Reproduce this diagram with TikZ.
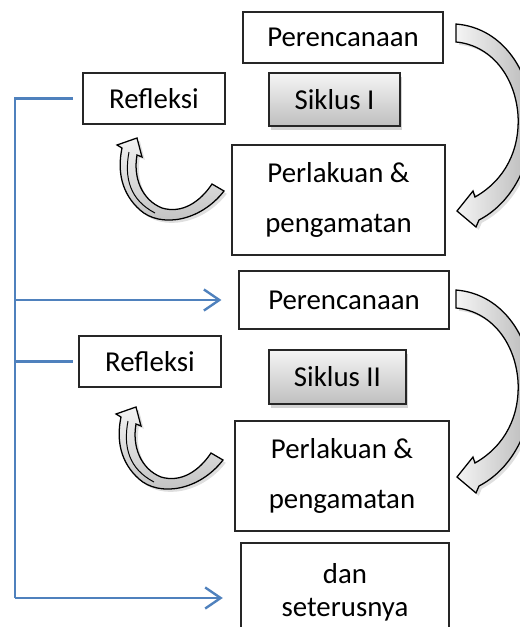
\documentclass[tikz,border=0pt]{standalone}
\usepackage{fontspec}
\setmainfont{Carlito}
\usetikzlibrary{arrows.meta, shadows}
\definecolor{biru}{HTML}{4F81BD}
\newcommand{\hurufkotak}{\fontsize{20.5pt}{35.5pt}\selectfont}
\tikzset{
  kotak/.style={draw=black!85,line width=0.9pt,fill=white,inner sep=0pt,align=center,font=\hurufkotak},
  siklus/.style={kotak,line width=1.4pt,top color=gray!8,bottom color=gray!50,
    drop shadow={opacity=0.35,shadow xshift=1.5pt,shadow yshift=-2.5pt}},
  garisbiru/.style={draw=biru,line width=1.7pt},
  panahbiru/.style={garisbiru,-{Straight Barb[length=11pt,width=15pt]}},
  lengkung/.style={draw=black,line width=0.9pt,left color=gray!8,right color=gray!55,
    drop shadow={opacity=0.25,shadow xshift=2pt,shadow yshift=-2pt}}
}

\begin{document}
\begin{tikzpicture}[x=0.025cm,y=-0.025cm]
\useasboundingbox (0,0) rectangle (520,627);

% siklus I
\node[kotak,minimum width=5cm,minimum height=1.275cm] (renc1) at (343,37.5) {Perencanaan};
\node[siklus,minimum width=3.275cm,minimum height=1.325cm] (siklus1) at (334.5,99.5) {Siklus I};
\node[kotak,minimum width=3.55cm,minimum height=1.275cm] (refl1) at (154,98.5) {Refleksi};
\node[kotak,minimum width=5.325cm,minimum height=2.75cm] (perl1) at (338.5,200) {Perlakuan \&\\pengamatan};

% siklus II
\node[kotak,minimum width=5.25cm,minimum height=1.45cm] (renc2) at (344,300) {Perencanaan};
\node[siklus,minimum width=3.425cm,minimum height=1.35cm] (siklus2) at (337.5,377) {Siklus II};
\node[kotak,minimum width=3.55cm,minimum height=1.275cm] (refl2) at (150,361.5) {Refleksi};
\node[kotak,minimum width=5.35cm,minimum height=2.75cm] (perl2) at (342,476) {Perlakuan \&\\pengamatan};

% dan seterusnya
\node[kotak,minimum width=5.2cm,minimum height=2.475cm,font=\fontsize{20.5pt}{23.5pt}\selectfont] (lanjut) at (345,592.5) {dan\\seterusnya};

% panah lengkung besar (perencanaan ke perlakuan)
\foreach \dy in {0,266}{
  \draw[lengkung,shift={(0,\dy)}] (456,24) -- (456,42)
    .. controls (490,45) and (515,75) .. (518,115)
    .. controls (520,150) and (505,180) .. (475,197)
    -- (473,191) -- (457,211) -- (476,227) -- (479,220)
    .. controls (508,205) and (532,170) .. (532,120)
    .. controls (532,75) and (505,28) .. (456,24) -- cycle;
}

% panah lengkung kecil (perlakuan ke refleksi)
\foreach \dx/\dy in {0/0,-1/269}{
  \begin{scope}[shift={(\dx,\dy)}]
    \draw[lengkung,top color=gray!10,bottom color=gray!50] (212,184) -- (224,191)
      .. controls (200,222) and (160,228) .. (140,210)
      .. controls (122,194) and (117,172) .. (122,148)
      -- (117,145) -- (137,138) -- (142,157) -- (137,155)
      .. controls (133,178) and (142,200) .. (162,208)
      .. controls (182,214) and (200,202) .. (212,184) -- cycle;
    \draw[line width=0.7pt] (129,152) .. controls (124,178) and (130,200) .. (155,213);
  \end{scope}
}

% garis biru umpan balik
\coordinate (atas) at (15,98.5);
\coordinate (tengah) at (15,361.5);
\coordinate (bawah) at (15,598);
\draw[garisbiru,shorten >=7pt] (bawah) -- (atas) -- (refl1.west);
\draw[garisbiru,shorten >=4pt] (tengah) -- (refl2.west);
\draw[panahbiru,shorten >=12pt] (atas |- renc2.west) -- (renc2.west);
\draw[panahbiru,shorten >=12.5pt] (bawah) -- (bawah -| lanjut.west);

\end{tikzpicture}
\end{document}
